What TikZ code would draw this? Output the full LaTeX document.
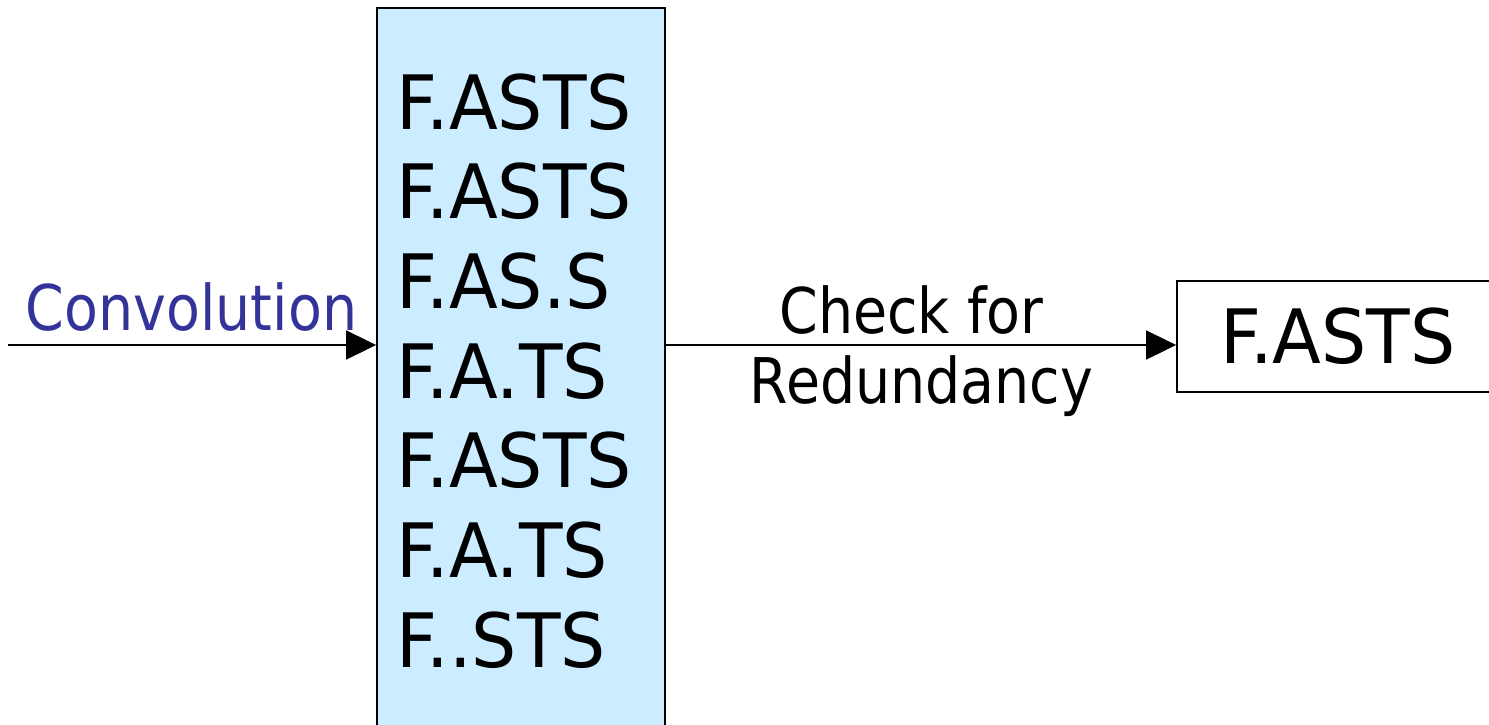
\documentclass[tikz,border=0pt]{standalone}
\usepackage{fontspec}
\setmainfont{DejaVu Sans}[FakeStretch=0.88]
\newfontfamily\rowfont{DejaVu Sans}[FakeStretch=0.95]
\usepackage{tikz}
\usetikzlibrary{arrows.meta}
\definecolor{listblue}{HTML}{CCECFF}
\definecolor{labelblue}{HTML}{333399}

\begin{document}
\begin{tikzpicture}[x=1pt,y=-1pt,line width=1.8pt]
            \tikzstyle{listbox}=[rectangle,draw=black,fill=listblue,minimum width=288pt,minimum height=724pt,inner sep=0pt]
            \tikzstyle{resultbox}=[rectangle,draw=black,fill=white,minimum width=322pt,minimum height=111pt,inner sep=0pt,font=\rowfont\fontsize{75}{80}\selectfont]
            \tikzstyle{row}=[inner sep=0pt,anchor=base west,font=\rowfont\fontsize{75}{80}\selectfont]
            \tikzstyle{label}=[inner sep=0pt,anchor=base,font=\fontsize{63}{68}\selectfont]
            \tikzstyle{link}=[-{Triangle[length=30pt,width=29pt]}]
                \useasboundingbox (0,0) rectangle (1489,725);

                \node[listbox] (list) at (521,370){};
                \node[resultbox] (result) at (1338,336.5){F.ASTS};

                \foreach \lbl [count=\i] in {F.ASTS, F.ASTS, F.AS.S, F.A.TS, F.ASTS, F.A.TS, F..STS}
                    \node[row] (row-\i) at (396, 39.3+89.7*\i){\lbl};

                \coordinate (start) at (8,345);
                \draw[link] (start) -- (start -| list.west);
                \draw[link] (start -| list.east) -- (start -| result.west);

                \node[label,anchor=base west,text=labelblue] (conv) at (25,330){Convolution};
                \node[label] (check) at (911.5,333){Check for};
                \node[label] (redund) at (921.5,403){Redundancy};
        \end{tikzpicture}
\end{document}
